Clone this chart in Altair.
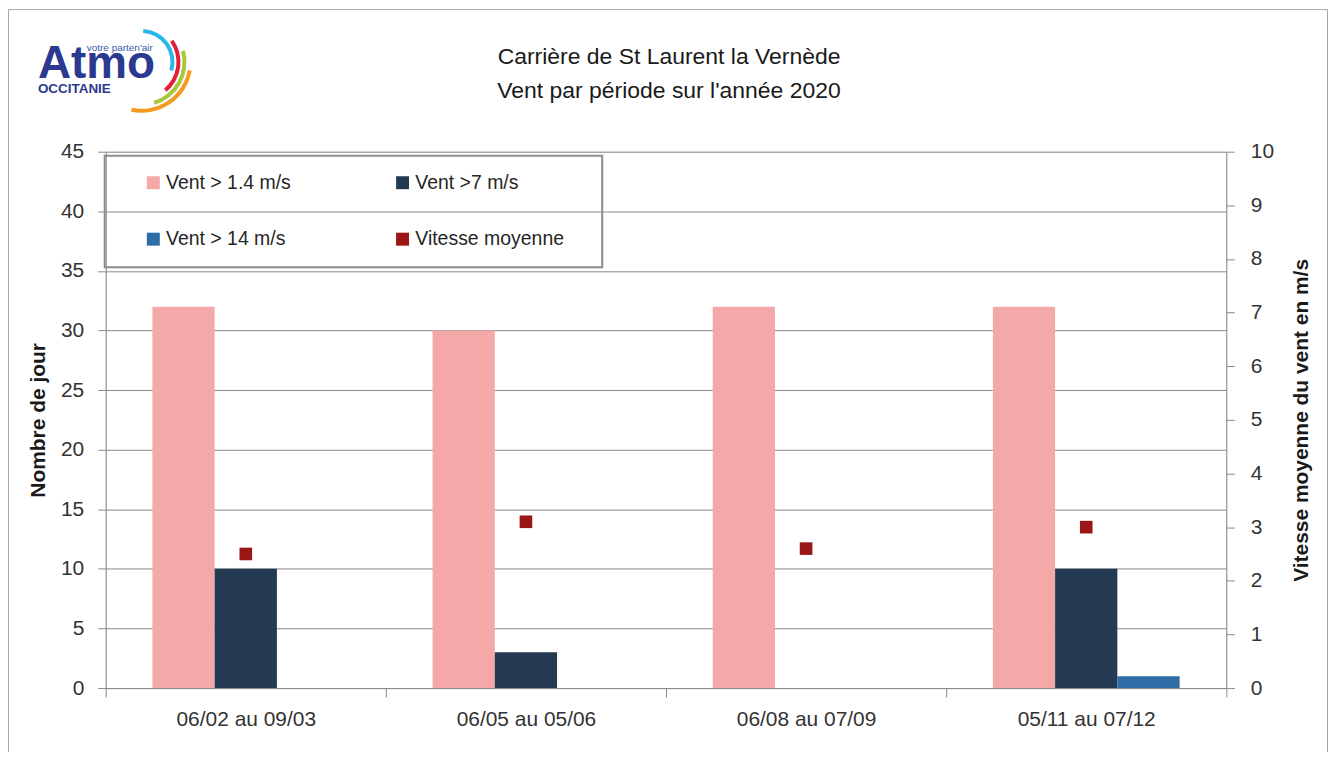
import altair as alt
import pandas as pd
import math

# ---- data ----
periods = ["06/02 au 09/03", "06/05 au 05/06", "06/08 au 07/09", "05/11 au 07/12"]
series_bars = ["Vent > 1.4 m/s", "Vent >7 m/s", "Vent > 14 m/s"]
vent_1_4 = [32, 30, 32, 32]
vent_7 = [10, 3, 0, 10]
vent_14 = [0, 0, 0, 1]
speed_name = "Vitesse moyenne"
vitesse = [2.5, 3.1, 2.6, 3.0]
colors = ["#f4a9a8", "#243a52", "#2e6da5", "#9b1616"]
left_ticks = list(range(0, 46, 5))
right_ticks = list(range(0, 11))
title_lines = ["Carrière de St Laurent la Vernède", "Vent par période sur l'année 2020"]

rows = []
for i, p in enumerate(periods):
    for s, vals in zip(series_bars, [vent_1_4, vent_7, vent_14]):
        rows.append({"periode": p, "serie": s, "jours": vals[i]})
bars_df = pd.DataFrame(rows)
speed_df = pd.DataFrame({"periode": periods, "serie": [speed_name] * len(periods), "vitesse": vitesse})

W, H = 1124, 538
FONT = "Liberation Sans"
GRID = "#8a8a8a"
LBL = "#333333"
all_series = series_bars + [speed_name]

color_scale = alt.Scale(domain=all_series, range=colors)
legend = alt.Legend(
    title=None, orient="none", legendX=38, legendY=21, columns=2, direction="horizontal",
    values=all_series,
    columnPadding=102, rowPadding=36, symbolType="square", symbolSize=169,
    symbolStrokeWidth=0, labelFontSize=19.5, labelFont=FONT, labelColor="#262626",
    labelOffset=3, padding=0,
)

x_enc = alt.X(
    "periode:N", sort=periods, title=None,
    scale=alt.Scale(paddingInner=0, paddingOuter=0),
    axis=alt.Axis(labelAngle=0, tickBand="extent", tickSize=9, labelPadding=12,
                  labelFontSize=21, labelFont=FONT, labelColor=LBL, grid=False,
                  domainColor=GRID, tickColor=GRID),
)

bars = alt.Chart(bars_df).mark_bar().encode(
    x=x_enc,
    xOffset=alt.XOffset("serie:N", sort=series_bars,
                        scale=alt.Scale(paddingInner=0, paddingOuter=0.75)),
    y=alt.Y("jours:Q", scale=alt.Scale(domain=[0, 45], nice=False),
            axis=alt.Axis(values=left_ticks, title="Nombre de jour", grid=True,
                          gridColor=GRID, domainColor=GRID, tickColor=GRID, tickSize=8,
                          labelFontSize=21, labelFont=FONT, labelColor=LBL, labelPadding=14,
                          titleFontSize=21, titleFont=FONT, titleFontWeight="bold",
                          titleColor="#1a1a1a", titlePadding=12)),
    color=alt.Color("serie:N", sort=all_series, scale=color_scale, legend=legend),
)

points = alt.Chart(speed_df).mark_square(size=160, opacity=1).encode(
    x=x_enc,
    y=alt.Y("vitesse:Q", scale=alt.Scale(domain=[0, 10], nice=False),
            axis=alt.Axis(orient="right", values=right_ticks,
                          title="Vitesse moyenne du vent en m/s", grid=False,
                          domainColor=GRID, tickColor=GRID, tickSize=8,
                          labelFontSize=21, labelFont=FONT, labelColor=LBL, labelPadding=16,
                          titleFontSize=21, titleFont=FONT, titleFontWeight="bold",
                          titleColor="#1a1a1a", titlePadding=38, titleAngle=270)),
    color=alt.Color("serie:N", sort=all_series, scale=color_scale, legend=legend),
)

one = pd.DataFrame({"k": [0]})

legend_box = alt.Chart(one).mark_rect(fill="transparent", stroke="#8c8c8c", strokeWidth=2).encode(
    x=alt.value(-1), x2=alt.value(498), y=alt.value(4), y2=alt.value(116))

outer_box = alt.Chart(one).mark_rect(fill="transparent", stroke="#a6a6a6", strokeWidth=1).encode(
    x=alt.value(-97.5), x2=alt.value(W + 101.5), y=alt.value(-142.5), y2=alt.value(H + 90))

# chart title (two lines)
title_layers = []
for line, yv in zip(title_lines, [-95, -61]):
    title_layers.append(alt.Chart(pd.DataFrame({"t": [line]})).mark_text(
        font=FONT, fontSize=23, color="#1a1a1a", align="center", baseline="middle").encode(
        text="t:N", x=alt.value(W / 2 + 3), y=alt.value(yv)))

# logo (decoration)
atmo = alt.Chart(pd.DataFrame({"t": ["Atmo"]})).mark_text(
    font=FONT, fontSize=46, fontWeight="bold", color="#2b3990",
    align="left", baseline="alphabetic").encode(text="t:N", x=alt.value(-68), y=alt.value(-74))
occ = alt.Chart(pd.DataFrame({"t": ["OCCITANIE"]})).mark_text(
    font=FONT, fontSize=13.5, fontWeight="bold", color="#2b3990", align="left",
    baseline="alphabetic").encode(text="t:N", x=alt.value(-68), y=alt.value(-59))
votre = alt.Chart(pd.DataFrame({"t": ["votre parten'air"]})).mark_text(
    font=FONT, fontSize=10, color="#3b5bab", align="left",
    baseline="alphabetic").encode(text="t:N", x=alt.value(-19), y=alt.value(-101))

arc_specs = [
    ("#29b6e8", 31, 3, 106),
    ("#e3203a", 37, 55, 140),
    ("#a6c83a", 43, 75, 163),
    ("#f39a1f", 49, 100, 192),
]
arcs = []
for col, r, a0, a1 in arc_specs:
    arcs.append(alt.Chart(one).mark_arc(color=col).encode(
        x=alt.value(36), y=alt.value(-90),
        theta=alt.value(math.radians(a0)), theta2=alt.value(math.radians(a1)),
        radius=alt.value(r + 2), radius2=alt.value(r - 2)))

chart = alt.layer(
    outer_box, bars, points, legend_box, *title_layers, atmo, occ, votre, *arcs
).resolve_scale(
    y="independent"
).properties(
    width=W, height=H,
    autosize=alt.AutoSizeParams(type="none"),
    padding={"left": 98, "top": 143, "right": 104, "bottom": 63},
).configure_view(stroke=None).configure(background="white")

chart.save("out.html", embed_options={"renderer": "svg", "actions": False})
